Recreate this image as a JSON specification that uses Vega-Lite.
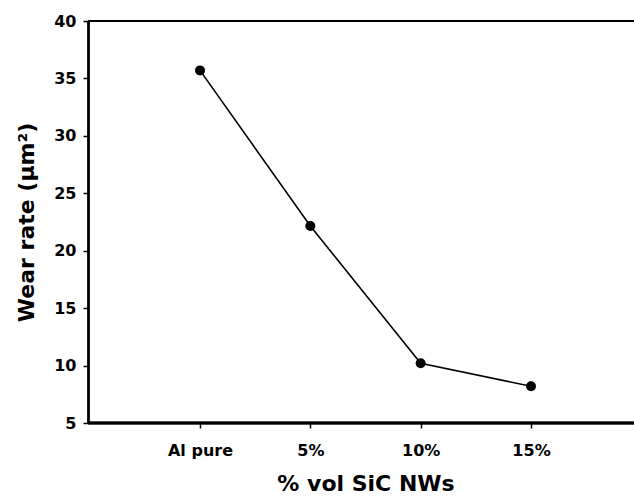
{
  "$schema": "https://vega.github.io/schema/vega-lite/v6.json",
  "width": 546,
  "height": 402,
  "autosize": {"type": "none"},
  "padding": {"left": 88, "top": 21, "right": 0, "bottom": 76},
  "background": "white",
  "config": {
    "view": {"stroke": null},
    "font": "DejaVu Sans",
    "axis": {
      "labelFont": "DejaVu Sans",
      "titleFont": "DejaVu Sans",
      "labelFontWeight": "bold",
      "titleFontWeight": "bold",
      "labelColor": "black",
      "titleColor": "black",
      "domainColor": "black",
      "tickColor": "black",
      "grid": false
    }
  },
  "data": {
    "values": [
      {"composition": "Al pure", "wear": 35.7},
      {"composition": "5%", "wear": 22.15},
      {"composition": "10%", "wear": 10.2},
      {"composition": "15%", "wear": 8.2}
    ]
  },
  "layer": [
    {
      "mark": {"type": "rule", "color": "black", "strokeWidth": 2.5},
      "encoding": {"y": {"datum": 5}}
    },
    {
      "mark": {"type": "rule", "color": "black", "strokeWidth": 1.5},
      "encoding": {"y": {"datum": 40}}
    },
    {
      "mark": {"type": "line", "color": "black", "strokeWidth": 1.6},
      "encoding": {
        "x": {
          "field": "composition",
          "type": "ordinal",
          "sort": null,
          "scale": {"type": "point", "range": [112, 443], "padding": 0},
          "axis": {
            "title": "% vol SiC NWs",
            "titleFontSize": 22,
            "titlePadding": 15,
            "labelFontSize": 16,
            "labelAngle": 0,
            "labelPadding": 14,
            "tickSize": 5,
            "domain": false,
            "tickWidth": 1.5
          }
        },
        "y": {
          "field": "wear",
          "type": "quantitative",
          "scale": {"domain": [5, 40], "nice": false, "zero": false},
          "axis": {
            "title": "Wear rate (µm²)",
            "titleFontSize": 22,
            "titlePadding": 15,
            "labelFontSize": 16,
            "labelPadding": 7,
            "tickSize": 5,
            "values": [5, 10, 15, 20, 25, 30, 35, 40],
            "domainWidth": 2.8,
            "tickWidth": 1.5
          }
        }
      }
    },
    {
      "mark": {"type": "point", "filled": true, "color": "black", "size": 100, "opacity": 1},
      "encoding": {
        "x": {"field": "composition", "type": "ordinal", "sort": null},
        "y": {"field": "wear", "type": "quantitative"}
      }
    }
  ]
}
